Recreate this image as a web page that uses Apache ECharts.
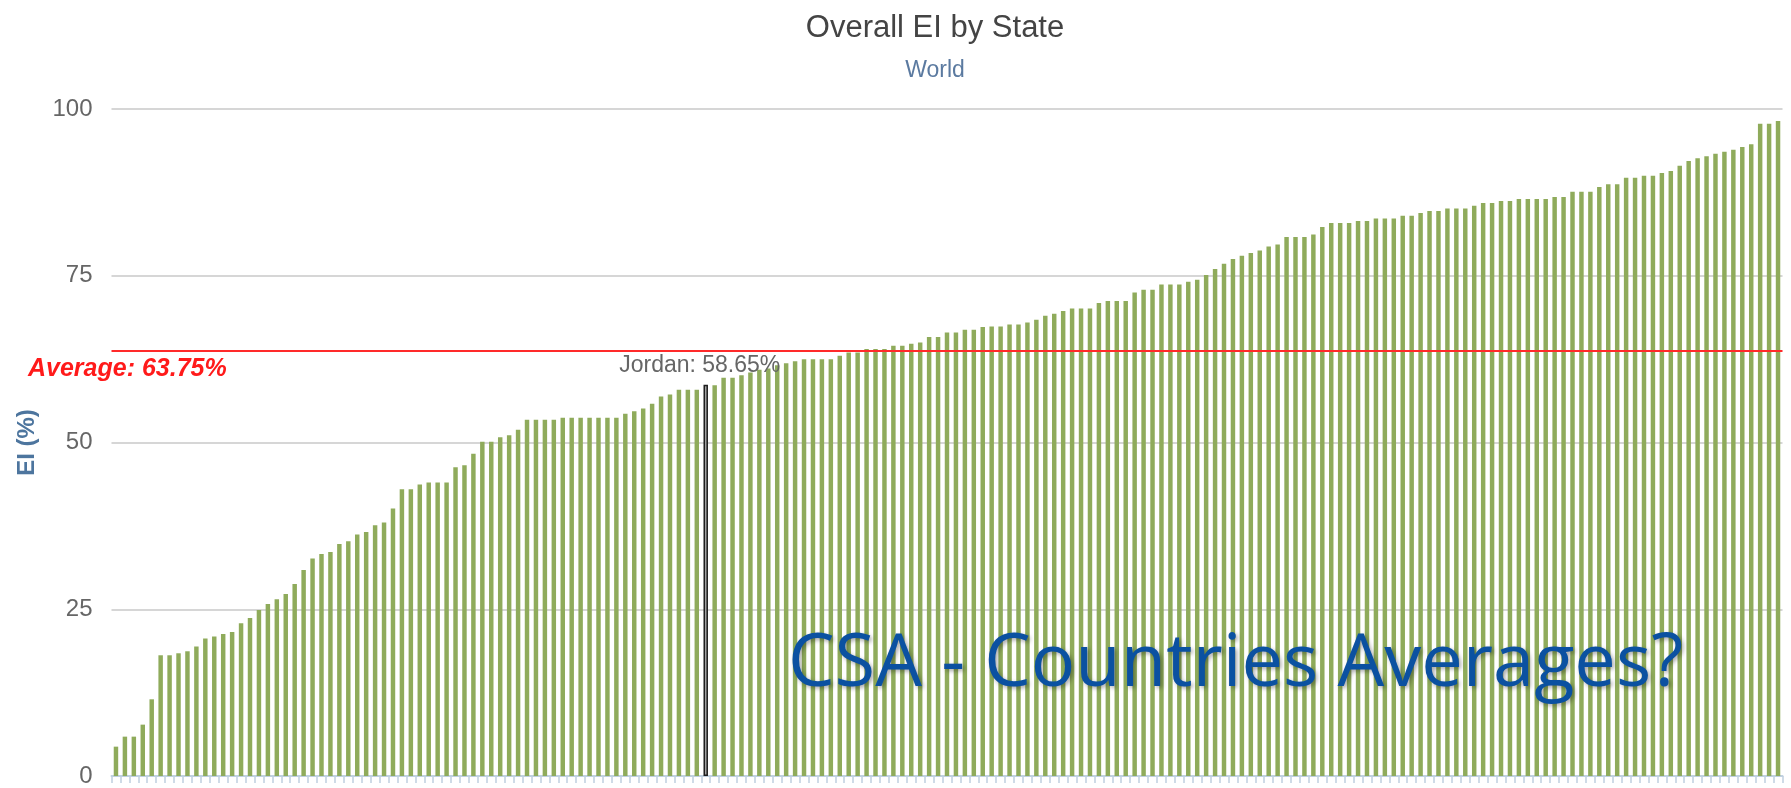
<!DOCTYPE html>
<html>
<head>
<meta charset="utf-8">
<script src="https://cdn.jsdelivr.net/npm/echarts@6/dist/echarts.min.js"></script>
<style>
html,body{margin:0;padding:0;background:#fff;}
#chart{width:1791px;height:788px;}
</style>
</head>
<body>
<div id="chart"></div>
<script>
// ---- data ----
const titleText = 'Overall EI by State';
const subtitleText = 'World';
const yAxisName = 'EI (%)';
const yTicks = [0, 25, 50, 75, 100];
const average = 63.75;
const highlightName = 'Jordan';
const highlightIndex = 66;
const overlayText = 'CSA - Countries Averages?';
const values = [
  4.4,5.9,5.9,7.7,11.5,18.1,18.1,18.4,18.7,19.4,
  20.6,20.9,21.3,21.6,22.9,23.7,24.9,25.8,26.5,27.3,
  28.8,30.9,32.6,33.3,33.6,34.8,35.2,36.2,36.6,37.6,
  38.0,40.1,43.0,43.0,43.7,44.0,44.0,44.0,46.3,46.6,
  48.3,50.1,50.1,50.8,51.1,51.9,53.4,53.4,53.4,53.4,
  53.7,53.7,53.7,53.7,53.7,53.7,53.7,54.3,54.7,55.1,
  55.8,56.9,57.2,57.9,57.9,57.9,58.65,58.6,59.7,59.7,
  60.1,60.5,60.9,61.1,61.6,61.9,62.2,62.5,62.5,62.5,
  62.5,63.0,63.5,63.5,64.0,64.0,64.0,64.5,64.5,64.8,
  65.0,65.8,65.8,66.5,66.5,66.9,66.9,67.3,67.4,67.4,
  67.7,67.7,68.0,68.4,69.0,69.3,69.7,70.1,70.1,70.1,
  70.9,71.2,71.2,71.2,72.5,72.9,72.9,73.7,73.7,73.7,
  74.1,74.4,75.1,76.0,76.8,77.5,78.0,78.4,78.8,79.4,
  79.7,80.8,80.8,80.8,81.2,82.3,82.9,82.9,82.9,83.2,
  83.2,83.6,83.6,83.6,84.0,84.0,84.4,84.7,84.7,85.1,
  85.1,85.1,85.5,85.9,85.9,86.2,86.2,86.5,86.5,86.5,
  86.5,86.8,86.8,87.6,87.6,87.6,88.3,88.7,88.7,89.7,
  89.7,90.0,90.0,90.4,90.7,91.5,92.2,92.6,92.9,93.3,
  93.6,93.9,94.3,94.7,97.8,97.8,98.2
];
const states = values.map((v, i) => i === highlightIndex ? highlightName : 'State ' + (i + 1));

// ---- chart ----
const FONT = '"Liberation Sans", Arial, sans-serif';
const chart = echarts.init(document.getElementById('chart'), null, {renderer: 'canvas'});

const seriesData = values.map((v, i) => {
  if (i !== highlightIndex) return v;
  return {
    value: v,
    itemStyle: {color: '#a3a3a3', borderColor: '#1e1e1e', borderWidth: 1.5},
    label: {
      show: true, position: 'top', distance: 8, offset: [-6, 0],
      formatter: p => p.name + ': ' + p.value.toFixed(2) + '%',
      color: '#666666', fontSize: 23, fontFamily: FONT
    }
  };
});

const option = {
  animation: false,
  backgroundColor: '#ffffff',
  title: [
    {text: titleText, left: 935, top: 13, textAlign: 'center', padding: 0,
     textStyle: {color: '#444444', fontSize: 31, fontWeight: 'normal', fontFamily: FONT}},
    {text: subtitleText, left: 935, top: 59, textAlign: 'center', padding: 0,
     textStyle: {color: '#5b7aa0', fontSize: 23, fontWeight: 'normal', fontFamily: FONT}}
  ],
  grid: {left: 111.5, right: 8.5, top: 109, bottom: 11.7, containLabel: false},
  xAxis: {
    type: 'category',
    data: states,
    axisLine: {show: true, lineStyle: {color: '#c0d0e0', width: 2}},
    axisTick: {show: true, interval: 0, length: 7, lineStyle: {color: '#c0d0e0', width: 1.5}},
    axisLabel: {show: false},
    splitLine: {show: false}
  },
  yAxis: {
    type: 'value',
    min: yTicks[0], max: yTicks[yTicks.length - 1], interval: 25,
    name: yAxisName, nameLocation: 'middle', nameGap: 72, nameRotate: 90,
    nameTextStyle: {color: '#4d759e', fontSize: 24, fontWeight: 'bold', fontFamily: FONT},
    axisLine: {show: false}, axisTick: {show: false},
    axisLabel: {color: '#666666', fontSize: 24, fontFamily: FONT, margin: 19},
    splitLine: {lineStyle: {color: '#d6d6d6', width: 2}}
  },
  series: [{
    type: 'bar',
    data: seriesData,
    barWidth: '50%',
    itemStyle: {color: '#8fab5b'},
    markLine: {
      silent: true, symbol: 'none',
      lineStyle: {color: '#ff2a2a', width: 2, type: 'solid'},
      label: {show: false},
      data: [{yAxis: average}]
    },
    z: 2
  }]
};
chart.setOption(option);

const avgY = chart.convertToPixel({yAxisIndex: 0}, average);
chart.setOption({
  graphic: [
    {type: 'text', left: 28, top: avgY + 6, z: 10,
     style: {text: 'Average: ' + average.toFixed(2) + '%', fill: '#ff1a1a',
       font: 'italic bold 25px ' + FONT}},
    {type: 'text', x: 788, y: 665, z: 20,
     style: {text: overlayText, fill: '#0b51a1', verticalAlign: 'middle', align: 'left',
       font: '74px "Open Sans", "Noto Sans", sans-serif',
       textShadowColor: 'rgba(0,0,0,0.35)', textShadowBlur: 4,
       textShadowOffsetX: 2, textShadowOffsetY: 2}}
  ]
});
</script>
</body>
</html>
